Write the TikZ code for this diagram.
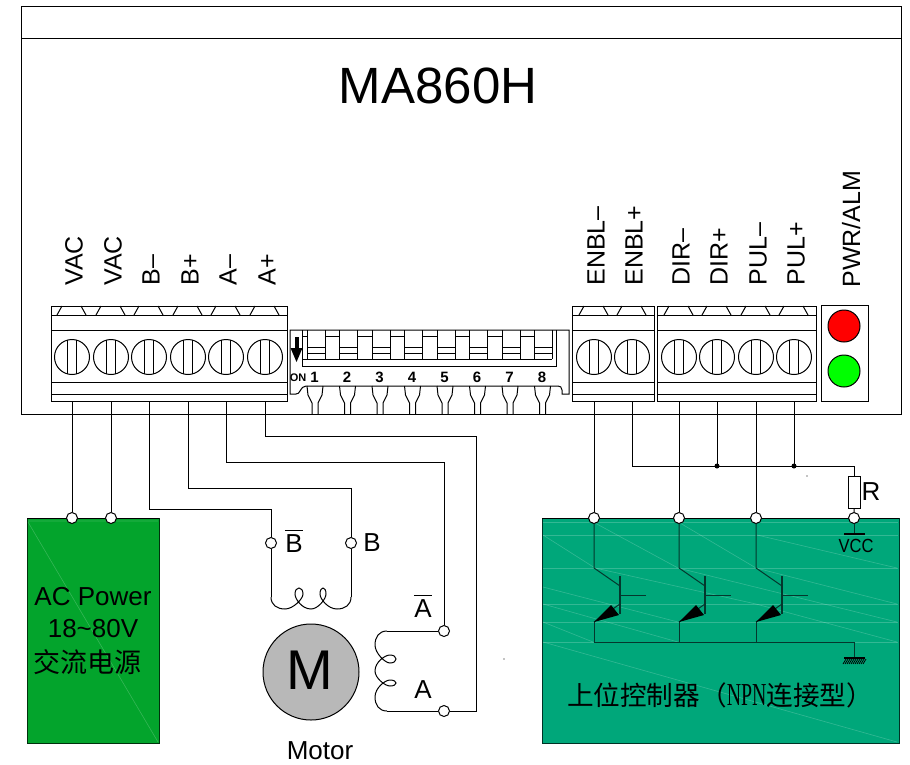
\documentclass[tikz,border=0pt]{standalone}
\usepackage{fontspec}
\setmainfont{Liberation Sans}
\newfontfamily\cjk{Noto Sans CJK SC}
\newfontfamily\npnfont[FakeStretch=0.62]{Liberation Serif}
\newfontfamily\vccfont[FakeStretch=0.87]{Liberation Sans}
\usetikzlibrary{arrows.meta}
\definecolor{acgreen}{RGB}{3,164,44}
\definecolor{ctrlgreen}{RGB}{0,167,122}
\definecolor{ctrlline}{RGB}{4,55,45}
\definecolor{motorgrey}{RGB}{184,184,184}
\tikzset{>=latex}
\tikzset{
    pinlabel/.style={rotate=90, anchor=base west, inner sep=0pt, font=\fontsize{25}{25}\selectfont},
    lab/.style={inner sep=0pt, font=\fontsize{26}{26}\selectfont},
    term/.style={circle, draw, fill=white, minimum size=11pt, inner sep=0pt},
    screw/.style={circle, draw, minimum size=35pt, inner sep=0pt},
    lamp/.style={circle, draw, minimum size=32pt, inner sep=0pt},
    streak/.style={white, opacity=.2, line width=.6pt}
}
% one winding of the motor, in its own axes
\newcommand{\coilpath}{(0,0) .. controls (0,8) and (6,12) .. (14,12) .. controls (22,12) and (32,2) .. (32,-3) .. controls (32,-11) and (24,-11) .. (24,-3) .. controls (24,2) and (31,12) .. (40,12) .. controls (47,12) and (55,2) .. (55,-3) .. controls (55,-11) and (49,-11) .. (49,-3) .. controls (49,2) and (57,12) .. (66,12) .. controls (74,12) and (80,8) .. (80,0)}
\begin{document}
\begin{tikzpicture}[x=1pt,y=-1pt,line width=1pt]
\useasboundingbox (0,0) rectangle (910,764);

% driver case
\draw (21,6) rectangle (901,414);
\draw (21,38) -- (901,38);
\node[inner sep=0pt, font=\fontsize{51}{51}\selectfont] (title) at (438,86) {MA860H};

% terminal blocks
\foreach \xa/\xb in {51/287, 572/654, 657/816} {
    \draw (\xa,306) rectangle (\xb,401);
    \foreach \y in {315,330,382,394}
        \draw (\xa,\y) -- (\xb,\y);
}
\foreach \x/\name/\txt in {72/vaca/VAC, 111/vacb/VAC, 149/bm/B--, 188/bp/B+, 226/am/A--, 265/ap/A+,
                           594/enm/ENBL--, 632/enp/ENBL+, 679/dirm/DIR--, 717/dirp/DIR+, 756/pulm/PUL--, 794/pulp/PUL+} {
    \draw ({\x-15},315) -- ({\x-10},306) ({\x+9},306) -- ({\x+14},315);
    \node[screw] (scr\name) at (\x,357) {};
    \draw ({\x-4.5},340) -- ({\x-4.5},374) ({\x+4.5},340) -- ({\x+4.5},374);
    \node[pinlabel] (lab\name) at ({\x+10.5},286) {\txt};
    \coordinate (pin\name) at (\x,401);
}

% dip switch
\draw (290,394) -- (290,330) -- (569,330) -- (569,394) -- (562,394) -- (562,390) .. controls (562,387) and (560,386) .. (558,386) -- (306,386) .. controls (303,386) and (302,388) .. (300,391) .. controls (299,393) and (298,394) .. (296,394) -- cycle;
\draw (302,330) -- (302,366) -- (556,366) -- (556,330);
\draw (302,359) -- (552,359);
\foreach \i in {1,...,8} {
    \pgfmathsetmacro{\xs}{307+32.5*(\i-1)}
    \draw (\xs,330) -- (\xs,359) ({\xs+18},330) -- ({\xs+18},359);
    \draw (\xs,347) -- ({\xs+18},347) (\xs,353) -- ({\xs+18},353);
    \ifnum\i<8 \draw ({\xs+18},336) -- ({\xs+32.5},336); \fi
    \draw (\xs,386) -- ({\xs+1},395) -- ({\xs+5},403) -- ({\xs+5},414);
    \draw ({\xs+16},386) -- ({\xs+15},395) -- ({\xs+11},403) -- ({\xs+11},414);
    \node[inner sep=0pt, font=\bfseries\fontsize{15}{15}\selectfont] (num\i) at ({\xs+7.5},377) {\i};
}
\draw (302,336) -- (307,336);
\draw[line width=4pt] (296.5,337) -- (296.5,350);
\fill (290.5,348) -- (302.5,348) -- (296.5,362) -- cycle;
\node[inner sep=0pt, font=\bfseries\fontsize{11}{11}\selectfont] (onlab) at (298,378) {ON};

% alarm lamps
\draw (821,305) rectangle (868,401);
\node[lamp, fill=red] (redlamp) at (844,326) {};
\node[lamp, fill=green] (greenlamp) at (844,371) {};
\node[pinlabel] (labpwr) at (860,288) {PWR/ALM};

% ac power box
\draw[draw=black!70!acgreen, fill=acgreen] (27,518) rectangle (159,743);
\draw[streak] (28,522) -- (158,742) (28,521) -- (158,521);
\draw (27,518) -- (159,518);
\node[term] (tvaca) at (72,518) {};
\node[term] (tvacb) at (111,518) {};
\node[lab] (acpow) at (93,597) {AC Power};
\node[lab] (acvolt) at (93,629) {18\textasciitilde80V};
\node[inner sep=0pt, font=\cjk\fontsize{27}{27}\selectfont] (accn) at (87,662) {交流电源};
\draw (pinvaca) -- (tvaca);
\draw (pinvacb) -- (tvacb);

% motor
\node[circle, draw, fill=motorgrey, minimum size=96pt, inner sep=0pt] (motor) at (311,672) {};
\node[inner sep=0pt, font=\fontsize{56}{56}\selectfont] (mlab) at (310,670) {M};
\node[lab] (motorlab) at (320,751) {Motor};
\node[term] (tbbar) at (271,543) {};
\node[term] (tb) at (351,543) {};
\node[term] (tabar) at (444,631) {};
\node[term] (ta) at (444,711) {};
\node[lab] (bbarlab) at (294,544) {B};
\node[lab] (blab) at (372,543) {B};
\node[lab] (abarlab) at (423,609) {A};
\node[lab] (alab) at (423,690) {A};
\draw ([yshift=4pt]bbarlab.north west) -- ([yshift=4pt]bbarlab.north east);
\draw ([yshift=4pt]abarlab.north west) -- ([yshift=4pt]abarlab.north east);
\draw (pinbm) -- ++(0,108) -| (tbbar);
\draw (pinbp) -- ++(0,87) -| (tb);
\draw (pinam) -- ++(0,61) -| (tabar);
\draw (pinap) -- ++(0,35) -- ++(211,0) |- (ta);
\begin{scope}[shift={(271,597)}]
\draw \coilpath;
\end{scope}
\begin{scope}[shift={(387,631)},x={(0pt,-1pt)},y={(-1pt,0pt)}]
\draw \coilpath;
\end{scope}
\draw (tbbar) -- (271,597);
\draw (tb) -- (351,597);
\draw (tabar) -- (387,631);
\draw (ta) -- (387,711);

% controller box
\draw[draw=black!70!ctrlgreen, fill=ctrlgreen] (542,518) rectangle (899,743);
\foreach \y in {522,535,568,604,622,642}
    \draw[streak] (543,\y) -- (898,\y);
\foreach \xa/\ya/\xb/\yb in {543/535/595/568, 595/523/678/568, 680/523/756/568, 757/535/897/568,
                             543/587/678/622, 543/604/678/642, 543/622/593/642, 543/642/897/742,
                             595/568/756/604, 678/568/897/622, 756/568/897/604, 756/604/897/642}
    \draw[streak] (\xa,\ya) -- (\xb,\yb);
\draw (542,518) -- (899,518);
\node[term] (tenm) at (594,518) {};
\node[term] (tdirm) at (679,518) {};
\node[term] (tpulm) at (756,518) {};
\node[term] (tvcc) at (854,518) {};
\node[draw, minimum width=12pt, minimum height=32pt, inner sep=0pt] (res) at (854.5,492) {};
\node[lab] (rlab) at (871,492) {R};
\node[inner sep=0pt, font=\vccfont\fontsize{19}{19}\selectfont] (vcc) at (856,546) {VCC};
\coordinate (jdir) at (717,466);
\coordinate (jpul) at (794,466);
\fill (jdir) circle (2.5);
\fill (jpul) circle (2.5);
\fill (807,476) circle (.6);
\fill (504,659) circle (.6);
\draw (pinenm) -- (tenm);
\draw (pindirm) -- (tdirm);
\draw (pinpulm) -- (tpulm);
\draw (pindirp) -- (jdir);
\draw (pinpulp) -- (jpul);
\draw (pinenp) -- ++(0,65) -| (res);
\draw (res) -- (tvcc);
\draw[ctrlline] (tvcc) -- (854,534);
\draw[line width=2pt] (844,534) -- (865,534);

% transistors
\foreach \x/\name in {594/tra, 679/trb, 756/trc} {
    \coordinate (\name) at (\x,622);
    \draw[ctrlline] (\x,523.5) -- (\x,568) -- ({\x+26},586);
    \draw[ctrlline, line width=1.5pt] ({\x+26},576) -- ({\x+26},614);
    \draw[ctrlline] ({\x+26},595) -- ({\x+52},595);
    \draw[ctrlline] ({\x+26},604) -- (\name);
    \fill (\name) -- ({\x+17},605) -- ({\x+25},615) -- cycle;
    \draw[ctrlline] (\name) -- (\x,642);
}
\draw[ctrlline] (594,642) -- (854,642) -- (854,658);
\draw[line width=1.5pt] (844,658) -- (865,658);
\foreach \x in {846,848,...,866}
    \draw[line width=.8pt] (\x,659) -- ({\x-3},664);
\node[inner sep=0pt, font=\cjk\fontsize{26.6}{27}\selectfont] (ctrllab) at (720,695) {上位控制器（{\npnfont\fontsize{32}{27}\selectfont NPN}连接型）};
\end{tikzpicture}
\end{document}
